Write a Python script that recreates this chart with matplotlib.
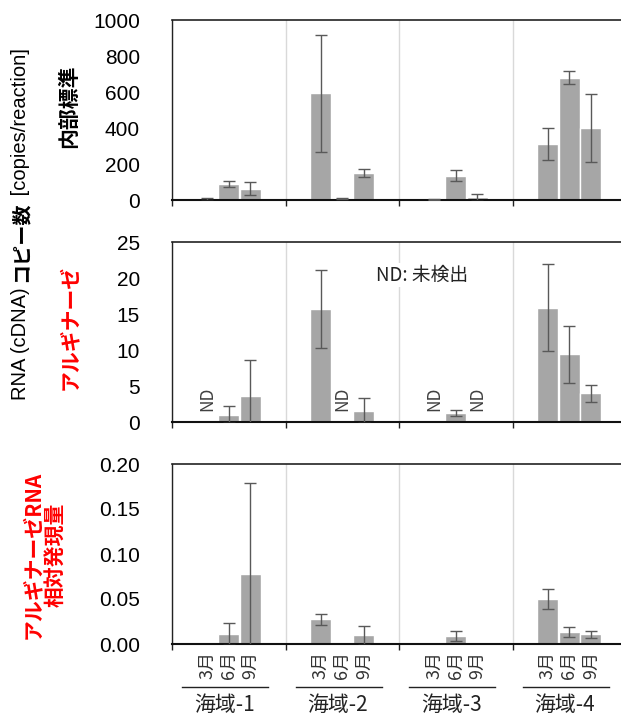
import numpy as np
import matplotlib
matplotlib.use('Agg')
import matplotlib.pyplot as plt
import matplotlib.transforms as mtransforms
from matplotlib.ticker import FixedLocator

plt.rcParams['font.family'] = ['Liberation Sans', 'Noto Sans CJK JP', 'DejaVu Sans']

# data
groups = ['海域-1', '海域-2', '海域-3', '海域-4']
months = ['3月', '6月', '9月']

# 内部標準 copies/reaction (group x month)
std_mean = [[3, 89, 63], [593, 10, 150], [2, 135, 15], [311, 678, 400]]
std_err = [[8, 17, 37], [325, 3, 20], [1, 30, 20], [88, 36, 190]]

# アルギナーゼ copies/reaction, None = ND
arg_mean = [[None, 1.0, 3.65], [15.7, None, 1.57], [None, 1.25, None], [15.9, 9.4, 4.0]]
arg_err = [[0, 1.2, 5.0], [5.4, 0, 1.7], [0, 0.45, 0], [6.1, 4.0, 1.2]]

# アルギナーゼRNA 相対発現量
rel_mean = [[0, 0.0111, 0.0774], [0.0274, 0, 0.0096], [0, 0.0092, 0], [0.0496, 0.0133, 0.0107]]
rel_err = [[0, 0.0118, 0.101], [0.006, 0, 0.0104], [0, 0.0055, 0], [0.011, 0.006, 0.004]]

W, H = 621, 716
fig = plt.figure(figsize=(W / 100, H / 100), dpi=100)

offsets = np.array([0.31, 0.50, 0.69])
bar_w = 0.185
xmax = (W - 172) / 113.5


def px_axes(top, bottom):
    return fig.add_axes([172 / W, 1 - bottom / H, (W - 172) / W, (bottom - top) / H])


def style(ax, ymax, yticks, fmt):
    ax.set_xlim(0, xmax)
    ax.set_ylim(0, ymax)
    ax.set_yticks(yticks)
    ax.set_yticklabels([fmt.format(v) for v in yticks], fontsize=15)
    ax.tick_params(axis='y', which='major', length=0, pad=23)
    ax.yaxis.set_minor_locator(FixedLocator([0, ymax]))
    ax.tick_params(axis='y', which='minor', length=7, width=1.2, color='#222222')
    ax.set_xticks([0, 1, 2, 3])
    ax.set_xticklabels([])
    ax.tick_params(axis='x', which='major', length=4, width=1, color='#222222')
    ax.grid(axis='x', which='major', color='#d9d9d9', lw=1)
    ax.set_axisbelow(True)
    ax.spines['right'].set_visible(False)
    ax.spines['left'].set_linewidth(1)
    ax.spines['left'].set_color('#222222')
    ax.spines['top'].set_linewidth(1.2)
    ax.spines['top'].set_color('#222222')
    ax.spines['bottom'].set_linewidth(1.5)
    ax.spines['bottom'].set_color('#111111')


def draw_bars(ax, means, errs):
    for g in range(len(groups)):
        for k in range(len(months)):
            m = means[g][k]
            if m is None or m == 0:
                continue
            x = g + offsets[k]
            ax.bar(x, m, width=bar_w, color='#a6a6a6', edgecolor='white', lw=1, zorder=2)
            ax.errorbar(x, m, yerr=errs[g][k], fmt='none', ecolor='#595959',
                        elinewidth=1, capsize=4, capthick=1, zorder=3)


ax1 = px_axes(20, 200)
style(ax1, 1000, [0, 200, 400, 600, 800, 1000], '{:d}')
draw_bars(ax1, std_mean, std_err)

ax2 = px_axes(242, 422)
style(ax2, 25, [0, 5, 10, 15, 20, 25], '{:d}')
draw_bars(ax2, arg_mean, arg_err)
for g in range(len(groups)):
    for k in range(len(months)):
        if arg_mean[g][k] is None:
            ax2.text(g + offsets[k], 1.5, 'ND', rotation=90, ha='center', va='bottom',
                     fontsize=12.5, color='#404040', family=['Noto Sans CJK JP'])
ax2.text(2.2, 20.4, 'ND: 未検出', ha='center', va='center', fontsize=13.5,
         color='#222222', family=['Noto Sans CJK JP'],
         bbox=dict(facecolor='white', edgecolor='none', pad=1), zorder=5)

ax3 = px_axes(464, 644)
style(ax3, 0.20, [0, 0.05, 0.10, 0.15, 0.20], '{:.2f}')
draw_bars(ax3, rel_mean, rel_err)

# month labels under the bottom panel
mpos = [g + o for g in range(len(groups)) for o in offsets]
ax3.set_xticks(mpos, minor=True)
ax3.set_xticklabels(months * len(groups), minor=True, rotation=90,
                    fontsize=13, family=['Noto Sans CJK JP'], color='#333333')
ax3.tick_params(axis='x', which='minor', length=0, pad=5)

# group brackets and names
trans = mtransforms.blended_transform_factory(ax3.transData, fig.transFigure)
for g, name in enumerate(groups):
    ax3.plot([g + 0.09, g + 0.85], [1 - 687 / H] * 2, transform=trans, color='#222222',
             lw=1, clip_on=False)
    ax3.text(g + 0.46, 1 - 705 / H, name, transform=trans, ha='center', va='center',
             fontsize=15, family=['Noto Sans CJK JP'], color='#222222')

# panel labels
fig.text(69 / W, 1 - 106 / H, '内部標準', rotation=90, ha='center', va='center',
         fontsize=15, fontweight='bold', family=['Noto Sans CJK JP'])
fig.text(69 / W, 1 - 327 / H, 'アルギナーゼ', rotation=90, ha='center', va='center',
         fontsize=15, fontweight='bold', color='red', family=['Noto Sans CJK JP'])
fig.text(44 / W, 1 - 555 / H, 'アルギナーゼRNA\n相対発現量', rotation=90, ha='center',
         va='center', fontsize=15, fontweight='bold', color='red', linespacing=1.15,
         family=['Noto Sans CJK JP', 'Liberation Sans'])

# main y label, built from pieces with different weights
renderer = fig.canvas.get_renderer()
y0 = 1 - 400 / H
pieces = [('RNA (cDNA) ', 'normal'), ('コピー数', 'bold'), (' [copies/reaction]', 'normal')]
for txt, wgt in pieces:
    t = fig.text(21 / W, y0, txt, rotation=90, ha='center', va='bottom', fontsize=14.5,
                 fontweight=wgt, family=['Liberation Sans', 'Noto Sans CJK JP'])
    bb = t.get_window_extent(renderer)
    y0 = bb.y1 / H

fig.savefig('out.png', dpi=100)
